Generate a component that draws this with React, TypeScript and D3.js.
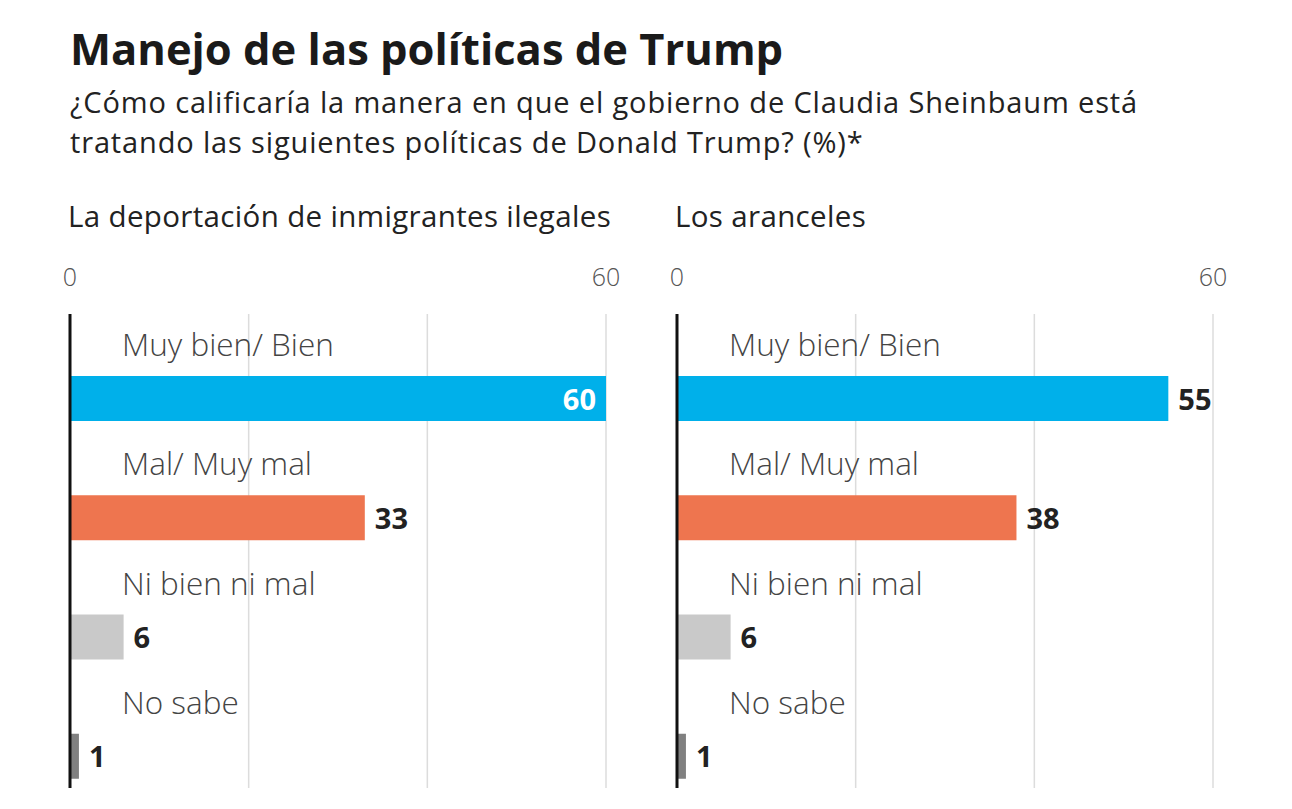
import React from "react";
import * as d3 from "d3";

// datos de la encuesta (%)
const categories = ["Muy bien/ Bien", "Mal/ Muy mal", "Ni bien ni mal", "No sabe"];
const deportacion = [60, 33, 6, 1];
const aranceles = [55, 38, 6, 1];
const panelTitles = ["La deportación de inmigrantes ilegales", "Los aranceles"];
const gridTicks = [20, 40, 60];
const axisLabels = [0, 60];
const barColors = ["#00B0EA", "#EE754F", "#C9C9C9", "#808080"];

const title = "Manejo de las políticas de Trump";
const subtitle = [
  "¿Cómo calificaría la manera en que el gobierno de Claudia Sheinbaum está",
  "tratando las siguientes políticas de Donald Trump? (%)*",
];

const W = 1292;
const H = 809;
const panelX = [70, 677];
const panelW = 536;
const top = 314;
const bottom = 788;
const FONT = "'Open Sans', sans-serif";

function Panel({ x0, name, values }: { x0: number; name: string; values: number[] }) {
  const x = d3.scaleLinear().domain([0, 60]).range([0, panelW]);
  const y = d3.scaleBand().domain(categories).range([315, 792]);
  const barH = 45;
  return (
    <g transform={`translate(${x0},0)`}>
      <text x={-2} y={227} fontSize={29.5} letterSpacing={0.35} fill="#222" fontFamily={FONT}>
        {name}
      </text>
      {axisLabels.map((t) => (
        <text key={t} x={x(t)} y={286} fontSize={25} fill="#555" textAnchor="middle"
          fontWeight={300} fontFamily={FONT}>
          {t}
        </text>
      ))}
      {gridTicks.map((t) => (
        <line key={t} x1={x(t)} x2={x(t)} y1={top} y2={bottom} stroke="#dcdcdc" strokeWidth={1.5} />
      ))}
      {categories.map((c, i) => {
        const r = y(c) as number;
        const v = values[i];
        const inside = x(v) > panelW - 20;
        return (
          <g key={c}>
            <text x={52} y={r + 41} fontSize={31.5} fill="#444" fontWeight={300} fontFamily={FONT}>
              {c}
            </text>
            <rect x={0} y={r + 61} width={x(v)} height={barH} fill={barColors[i]} />
            <text
              x={inside ? x(v) - 10 : x(v) + 10}
              y={r + 61 + barH / 2 + 11}
              textAnchor={inside ? "end" : "start"}
              fontSize={29}
              fontWeight={700}
              fill={inside ? "#fff" : "#222"}
              fontFamily={FONT}
            >
              {v}
            </text>
          </g>
        );
      })}
      <line x1={0} x2={0} y1={top} y2={bottom} stroke="#111" strokeWidth={3} />
    </g>
  );
}

export default function App() {
  const panels = [deportacion, aranceles];
  return (
    <svg width={W} height={H} style={{ position: "absolute", left: 0, top: 0, background: "#fff" }}>
      <rect width={W} height={H} fill="#fff" />
      <text x={70} y={65} fontSize={43.5} fontWeight={700} fill="#1a1a1a" fontFamily={FONT}>
        {title}
      </text>
      {subtitle.map((s, i) => (
        <text key={i} x={70} y={113 + i * 40} fontSize={29} letterSpacing={0.85} fill="#222" fontFamily={FONT}>
          {s}
        </text>
      ))}
      {panels.map((vals, i) => (
        <Panel key={i} x0={panelX[i]} name={panelTitles[i]} values={vals} />
      ))}
    </svg>
  );
}
